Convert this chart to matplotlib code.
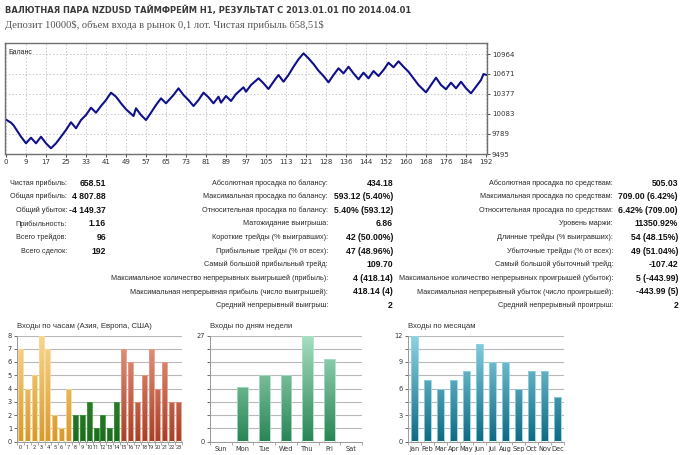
import os
import numpy as np
import matplotlib
matplotlib.use('Agg')
import matplotlib.pyplot as plt
import matplotlib.font_manager as fm
from matplotlib.colors import LinearSegmentedColormap

W, H = 680, 455

# balance curve (deal index, balance)
deals = [0, 2, 3, 6, 8, 10, 12, 14, 16, 18, 20, 22, 24, 26, 28, 30, 32, 34, 36, 38,
         40, 42, 44, 46, 48, 51, 52, 54, 56, 58, 60, 62, 64, 67, 69, 71, 73, 75, 77, 79,
         81, 83, 85, 86, 88, 90, 92, 95, 96, 98, 101, 103, 105, 107, 109, 111, 113, 115, 117, 119,
         121, 123, 125, 127, 129, 131, 133, 135, 137, 139, 141, 143, 145, 147, 149, 151, 153, 155, 157, 159,
         161, 163, 165, 168, 170, 172, 174, 176, 178, 180, 182, 184, 186, 188, 190, 191, 192]
balance = [10000, 9955, 9917, 9749, 9652, 9734, 9652, 9749, 9652, 9579, 9652, 9749, 9848, 9961, 9873, 9994, 10068, 10175, 10102, 10200,
           10288, 10396, 10337, 10240, 10152, 10053, 10166, 10068, 9994, 10102, 10215, 10313, 10240, 10362, 10460, 10362, 10288, 10200, 10288, 10396,
           10328, 10240, 10337, 10249, 10347, 10274, 10376, 10475, 10410, 10509, 10607, 10534, 10450, 10557, 10656, 10557, 10656, 10777, 10886, 10974,
           10901, 10817, 10719, 10641, 10548, 10656, 10754, 10680, 10777, 10680, 10592, 10690, 10607, 10714, 10641, 10729, 10836, 10769, 10857, 10777,
           10704, 10607, 10509, 10401, 10509, 10616, 10509, 10446, 10543, 10460, 10557, 10460, 10387, 10484, 10582, 10670, 10658.51]
bal_ticks = [9495, 9789, 10083, 10377, 10671, 10964]
deal_labels = ['0', '9', '17', '25', '33', '41', '49', '57', '65', '73', '81', '89', '97',
               '105', '113', '121', '128', '136', '144', '152', '160', '168', '176', '184', '192']

# stats
col1_labels = ['Чистая прибыль:', 'Общая прибыль:', 'Общий убыток:', 'Прибыльность:',
               'Всего трейдов:', 'Всего сделок:']
col1_values = ['658.51', '4 807.88', '-4 149.37', '1.16', '96', '192']
col2_labels = ['Абсолютная просадка по балансу:', 'Максимальная просадка по балансу:',
               'Относительная просадка по балансу:', 'Матожидание выигрыша:',
               'Короткие трейды (% выигравших):', 'Прибыльные трейды (% от всех):',
               'Самый большой прибыльный трейд:',
               'Максимальное количество непрерывных выигрышей (прибыль):',
               'Максимальная непрерывная прибыль (число выигрышей):',
               'Средний непрерывный выигрыш:']
col2_values = ['434.18', '593.12 (5.40%)', '5.40% (593.12)', '6.86', '42 (50.00%)',
               '47 (48.96%)', '109.70', '4 (418.14)', '418.14 (4)', '2']
col3_labels = ['Абсолютная просадка по средствам:', 'Максимальная просадка по средствам:',
               'Относительная просадка по средствам:', 'Уровень маржи:',
               'Длинные трейды (% выигравших):', 'Убыточные трейды (% от всех):',
               'Самый большой убыточный трейд:',
               'Максимальное количество непрерывных проигрышей (убыток):',
               'Максимальная непрерывный убыток (число проигрышей):',
               'Средний непрерывный проигрыш:']
col3_values = ['505.03', '709.00 (6.42%)', '6.42% (709.00)', '11350.92%', '54 (48.15%)',
               '49 (51.04%)', '-107.42', '5 (-443.99)', '-443.99 (5)', '2']

# entries histograms
hours = [str(h) for h in range(24)]
hour_entries = [7, 4, 5, 8, 7, 2, 1, 4, 2, 2, 3, 1, 2, 1, 3, 7, 6, 3, 5, 7, 4, 6, 3, 3]
days = ['Sun', 'Mon', 'Tue', 'Wed', 'Thu', 'Fri', 'Sat']
day_entries = [0, 14, 17, 17, 27, 21, 0]
months = ['Jan', 'Feb', 'Mar', 'Apr', 'May', 'Jun', 'Jul', 'Aug', 'Sep', 'Oct', 'Nov', 'Dec']
month_entries = [12, 7, 6, 7, 8, 11, 9, 9, 6, 8, 8, 5]

SANS = ['Liberation Sans', 'DejaVu Sans']


def narrow_font():
    # look for any condensed / narrow bold face with cyrillic
    best = None
    for f in fm.fontManager.ttflist:
        base = os.path.basename(f.fname).lower()
        tag = (f.name + ' ' + str(f.stretch) + ' ' + base).lower()
        if 'condensed' not in tag and 'narrow' not in tag:
            continue
        if 'italic' in base or 'oblique' in base:
            continue
        score = 0
        if 'bold' in base:
            score += 2
        if 'extra' in base or 'semi' in base or 'ultra' in base:
            score -= 1
        if best is None or score > best[0]:
            best = (score, f.fname)
    if best is None:
        return fm.FontProperties(family=['Roboto', 'DejaVu Sans'], weight='bold')
    return fm.FontProperties(fname=best[1], weight='bold')


fig = plt.figure(figsize=(W / 100, H / 100), dpi=100)


def px_axes(l, t, r, b):
    return fig.add_axes([l / W, 1 - b / H, (r - l) / W, (b - t) / H])


def px_text(x, y, s, **kw):
    kw.setdefault('va', 'center')
    return fig.text(x / W, 1 - y / H, s, parse_math=False, **kw)


def fit_width(t, px):
    r = fig.canvas.get_renderer()
    w = t.get_window_extent(r).width
    t.set_fontsize(t.get_fontsize() * px / w)


# header
title = px_text(5, 10, 'ВАЛЮТНАЯ ПАРА NZDUSD ТАЙМФРЕЙМ H1, РЕЗУЛЬТАТ С 2013.01.01 ПО 2014.04.01',
                fontproperties=narrow_font(), color='#3a3a3a')
title.set_fontsize(9.5)
sub = px_text(5, 25, 'Депозит 10000$, объем входа в рынок 0,1 лот. Чистая прибыль 658,51$',
              family=['Liberation Serif', 'DejaVu Serif'], fontsize=8.6, color='#555555')
fig.canvas.draw()
fit_width(title, 410)
fit_width(sub, 317)

# balance chart
ax = px_axes(5, 43, 487, 154)
ax.plot(deals, balance, color='#10108a', lw=1.5, solid_joinstyle='round')
ax.set_xlim(-0.4, 192.4)
ax.set_ylim(9495, 11126)
ax.set_xticks(np.arange(0, 193, 8))
ax.set_xticklabels(deal_labels)
ax.set_yticks(bal_ticks)
ax.yaxis.tick_right()
ax.tick_params(labelsize=5, length=2, width=0.6, pad=1.5, colors='#333333')
ax.grid(True, color='#c8c8c8', ls=(0, (1.5, 2)), lw=0.7)
for side, sp in ax.spines.items():
    sp.set_color('#707070')
    sp.set_linewidth(1.0)
ax.text(0.008, 0.95, 'Баланс', transform=ax.transAxes, fontsize=5, va='top',
        family=SANS, color='#222222')

# stats table
row_y = [183 + 13.6 * i for i in range(10)]
cols = [(col1_labels, col1_values, 67, 106),
        (col2_labels, col2_values, 328, 393),
        (col3_labels, col3_values, 613, 678)]
for labels, values, lx, vx in cols:
    for i, (lab, val) in enumerate(zip(labels, values)):
        px_text(lx, row_y[i], lab, ha='right', fontsize=5.25, family=SANS, color='#2a2a2a')
        px_text(vx, row_y[i], val, ha='right', fontsize=6.2, family=SANS, weight='bold',
                color='#111111')


def grad_bars(ax, cats, vals, width, top_c, bot_c, ymax, colors=None):
    x = np.arange(len(cats))
    bars = ax.bar(x, vals, width, color='none', edgecolor='none', zorder=3)
    grad = np.linspace(0, 1, 256).reshape(-1, 1)
    for i, b in enumerate(bars):
        tc, bc = (top_c, bot_c) if colors is None else colors[i]
        cmap = LinearSegmentedColormap.from_list('g', [bc, tc])
        im = ax.imshow(grad, extent=(b.get_x(), b.get_x() + b.get_width(), 0, ymax),
                       origin='lower', cmap=cmap, aspect='auto', zorder=3)
        im.set_clip_path(b)
        ax.bar(x[i], vals[i], width, color='none', edgecolor=tc, lw=0.6, zorder=4)
    ax.set_xlim(-0.5, len(cats) - 0.5)
    ax.set_ylim(0, ymax)
    ax.set_xticks(x)
    ax.set_xticklabels(cats)
    ax.set_xticks(np.arange(len(cats) + 1) - 0.5, minor=True)
    ax.tick_params(axis='x', which='major', length=0, labelsize=4.8, pad=3, colors='#333333')
    ax.tick_params(axis='x', which='minor', length=2, width=0.5, color='#888888')
    ax.tick_params(axis='y', labelsize=4.8, length=2, width=0.5, pad=1.5, colors='#333333')
    ax.grid(True, axis='y', color='#b8b8b8', lw=0.8, zorder=0)
    ax.set_axisbelow(True)
    for s in ['top', 'right']:
        ax.spines[s].set_visible(False)
    for s in ['left', 'bottom']:
        ax.spines[s].set_color('#999999')
        ax.spines[s].set_linewidth(0.7)


# hours
ax1 = px_axes(17, 335.5, 182, 441.5)
hour_cols = [('#f8d892', '#d9982f')] * 8 + [('#3f9a3f', '#1f6b1f')] * 7 + [('#e79a84', '#a8402a')] * 9
grad_bars(ax1, hours, hour_entries, 0.72, None, None, 8, colors=hour_cols)
ax1.set_yticks(np.arange(0, 9))
ax1.tick_params(axis='x', labelsize=4.0, pad=2.5)
for lab in ax1.get_xticklabels():
    lab.set_fontproperties(fm.FontProperties(family=['Roboto', 'DejaVu Sans'], size=4.0))
px_text(17, 327, 'Входы по часам (Азия, Европа, США)', fontsize=5.6, family=SANS, color='#333333')

# days of week
ax2 = px_axes(210, 335.5, 362, 441.5)
grad_bars(ax2, days, day_entries, 0.5, '#a8dfc3', '#2a8555', 27)
ax2.set_yticks(np.linspace(0, 27, 9))
ax2.set_yticklabels(['0'] + [''] * 7 + ['27'])
px_text(210, 327, 'Входы по дням недели', fontsize=5.6, family=SANS, color='#333333')

# months
ax3 = px_axes(408, 335.5, 564, 441.5)
grad_bars(ax3, months, month_entries, 0.5, '#8fd4e4', '#0f6a84', 12)
ax3.set_yticks(np.arange(0, 12.1, 1.5))
ax3.set_yticklabels(['0', '', '3', '', '6', '', '9', '', '12'])
px_text(408, 327, 'Входы по месяцам', fontsize=5.6, family=SANS, color='#333333')

fig.savefig('out.png', dpi=100)
